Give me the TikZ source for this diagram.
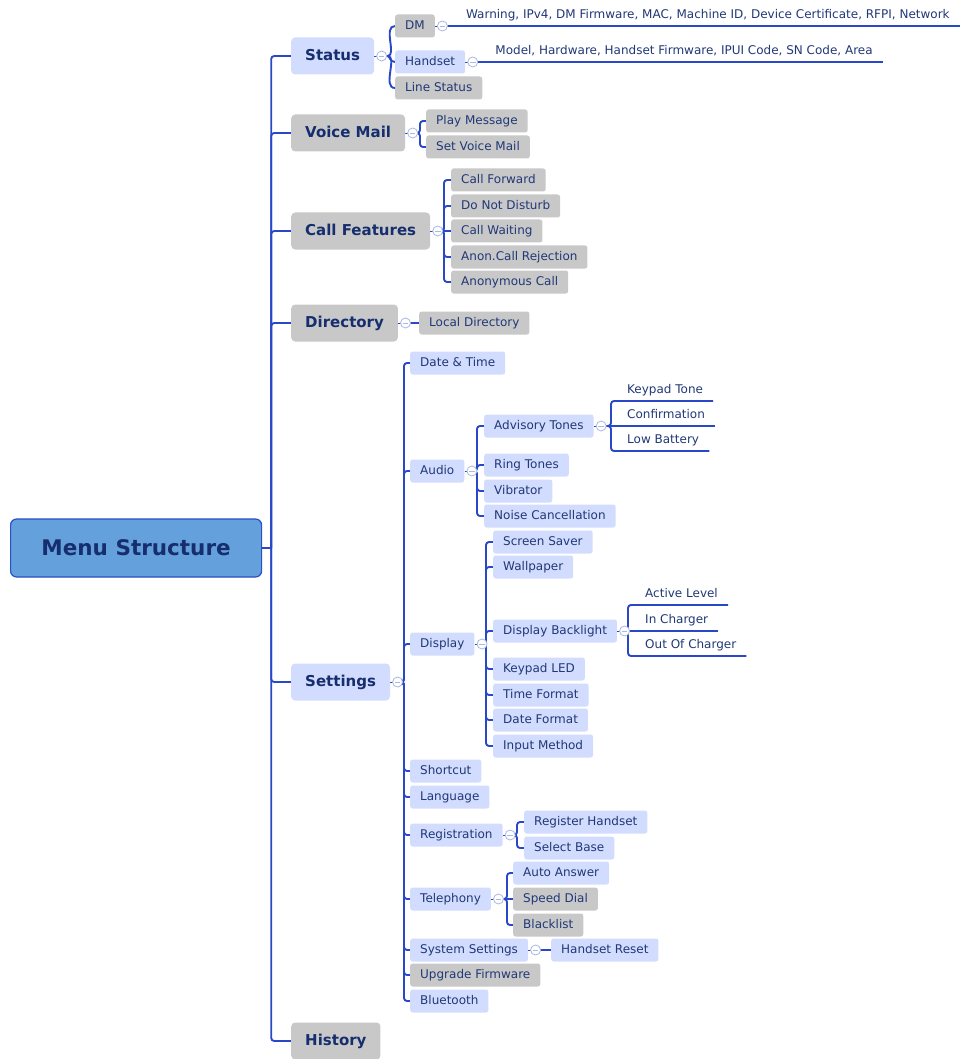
\documentclass[tikz,border=0pt]{standalone}
\usepackage{fontspec}
\setmainfont{DejaVu Sans}
\usetikzlibrary{positioning, calc, backgrounds}

\definecolor{linkc}{RGB}{40,72,200}
\definecolor{topicc}{RGB}{210,220,254}
\definecolor{greyc}{RGB}{200,200,200}
\definecolor{textc}{RGB}{32,56,118}
\definecolor{headc}{RGB}{22,46,110}
\definecolor{rootc}{RGB}{100,160,220}
\definecolor{rootline}{RGB}{40,80,200}
\definecolor{foldc}{RGB}{170,184,226}

\tikzset{
  conn/.style={draw=linkc, line width=1.9pt, rounded corners=3pt},
  tie/.style={draw=linkc, line width=0.8pt},
  box/.style={rounded corners=2.5pt, anchor=west, text=textc, font=\fontsize{12}{14}\selectfont,
    inner xsep=10pt, inner ysep=0pt, minimum height=23pt, text height=8.5pt, text depth=2pt},
  bluebox/.style={box, fill=topicc},
  greybox/.style={box, fill=greyc},
  main/.style={rounded corners=4pt, anchor=west, text=headc, font=\fontsize{15}{18}\selectfont\bfseries,
    inner xsep=14pt, inner ysep=0pt, minimum height=37pt, text height=11pt, text depth=2.5pt},
  mainblue/.style={main, fill=topicc},
  maingrey/.style={main, fill=greyc},
  leaf/.style={anchor=south west, text=textc, font=\fontsize{12}{14}\selectfont,
    inner xsep=10pt, inner ysep=3.5pt, text height=9pt, text depth=3.5pt},
  fold/.style={circle, draw=foldc, fill=white, line width=0.8pt, minimum size=10pt, inner sep=0pt,
    path picture={\draw[foldc, line width=0.8pt] ([xshift=-2.8pt]path picture bounding box.center) -- ([xshift=2.8pt]path picture bounding box.center);}},
}

\begin{document}
\begin{tikzpicture}[x=1pt, y=-1pt]
    \useasboundingbox (0,0) rectangle (964,1059);

    % root
    \node[draw=rootline, fill=rootc, line width=1.2pt, rounded corners=6pt, anchor=west, minimum width=251pt, minimum height=58pt,
      text=headc, font=\fontsize{21.5}{25}\selectfont\bfseries] (root) at (10,548) {Menu Structure};
    \coordinate (trunk) at ([xshift=9pt]root.east);

    % first level
    \node[mainblue] (st) at (291,56) {Status};
    \node[maingrey] (vm) at (291,133) {Voice Mail};
    \node[maingrey] (cfe) at (291,231) {Call Features};
    \node[maingrey] (dir) at (291,323) {Directory};
    \node[mainblue] (set) at (291,682) {Settings};
    \node[maingrey] (his) at (291,1041) {History};

    % status
    \node[greybox] (dm) at (395,26) {DM};
    \node[bluebox] (hs) at (395,62) {Handset};
    \node[greybox] (ls) at (395,88) {Line Status};

    % voice mail
    \node[greybox] (pm) at (426,121) {Play Message};
    \node[greybox] (svm) at (426,147) {Set Voice Mail};

    % call features
    \node[greybox] (cfw) at (451,180) {Call Forward};
    \node[greybox] (dnd) at (451,206) {Do Not Disturb};
    \node[greybox] (cwt) at (451,231) {Call Waiting};
    \node[greybox] (acr) at (451,257) {Anon.Call Rejection};
    \node[greybox] (anc) at (451,282) {Anonymous Call};

    % directory
    \node[greybox] (ld) at (419,323) {Local Directory};

    % settings
    \node[bluebox] (dt) at (410,363) {Date \& Time};
    \node[bluebox] (au) at (410,471) {Audio};
    \node[bluebox] (dsp) at (410,644) {Display};
    \node[bluebox] (sc) at (410,771) {Shortcut};
    \node[bluebox] (lang) at (410,797) {Language};
    \node[bluebox] (reg) at (410,835) {Registration};
    \node[bluebox] (tel) at (410,899) {Telephony};
    \node[bluebox] (sys) at (410,950) {System Settings};
    \node[greybox] (upg) at (410,975) {Upgrade Firmware};
    \node[bluebox] (bt) at (410,1001) {Bluetooth};

    % audio
    \node[bluebox] (adv) at (484,426) {Advisory Tones};
    \node[bluebox] (rt) at (484,465) {Ring Tones};
    \node[bluebox] (vib) at (484,491) {Vibrator};
    \node[bluebox] (nc) at (484,516) {Noise Cancellation};
    \node[leaf] (kt) at (617,401) {Keypad Tone};
    \node[leaf] (cnf) at (617,426) {Confirmation};
    \node[leaf] (lb) at (617,451) {Low Battery};

    % display
    \node[bluebox] (ss) at (493,542) {Screen Saver};
    \node[bluebox] (wp) at (493,567) {Wallpaper};
    \node[bluebox] (db) at (493,631) {Display Backlight};
    \node[bluebox] (kl) at (493,669) {Keypad LED};
    \node[bluebox] (tf) at (493,695) {Time Format};
    \node[bluebox] (df) at (493,720) {Date Format};
    \node[bluebox] (im) at (493,746) {Input Method};
    \node[leaf] (al) at (635,605) {Active Level};
    \node[leaf] (ic) at (635,631) {In Charger};
    \node[leaf] (oc) at (635,656) {Out Of Charger};

    % registration, telephony, system
    \node[bluebox] (rh) at (524,822) {Register Handset};
    \node[bluebox] (sb) at (524,848) {Select Base};
    \node[bluebox] (aa) at (513,873) {Auto Answer};
    \node[greybox] (sd) at (513,899) {Speed Dial};
    \node[greybox] (bl) at (513,925) {Blacklist};
    \node[bluebox] (hr) at (551,950) {Handset Reset};

    % fold marks
    \node[fold, right=2pt of st] (stf) {};
    \node[fold, right=2pt of dm] (dmf) {};
    \node[fold, right=2pt of hs] (hsf) {};
    \node[fold, right=2pt of vm] (vmf) {};
    \node[fold, right=2pt of cfe] (cfef) {};
    \node[fold, right=2pt of dir] (dirf) {};
    \node[fold, right=2pt of set] (setf) {};
    \node[fold, right=2pt of au] (auf) {};
    \node[fold, right=2pt of adv] (advf) {};
    \node[fold, right=2pt of dsp] (dspf) {};
    \node[fold, right=2pt of db] (dbf) {};
    \node[fold, right=2pt of reg] (regf) {};
    \node[fold, right=2pt of tel] (telf) {};
    \node[fold, right=2pt of sys] (sysf) {};

    % status texts
    \node[leaf] (dmi) at ([xshift=13.5pt]dmf.center) {Warning, IPv4, DM Firmware, MAC, Machine ID, Device Certificate, RFPI, Network};
    \node[leaf] (hsi) at ([xshift=12.5pt]hsf.center) {Model, Hardware, Handset Firmware, IPUI Code, SN Code, Area};

    \begin{scope}[on background layer]
      % trunk
      \draw[conn] (root.east) -- (trunk);
      \draw[conn] (trunk) |- (st.west);
      \draw[conn] (trunk) |- (vm.west);
      \draw[conn] (trunk) |- (cfe.west);
      \draw[conn] (trunk) |- (dir.west);
      \draw[conn] (trunk) |- (set.west);
      \draw[conn] (trunk) |- (his.west);

      % ties to fold marks
      \draw[tie] (st.east) -- (stf.center);
      \draw[tie] (dm.east) -- (dmf.center);
      \draw[tie] (hs.east) -- (hsf.center);
      \draw[tie] (vm.east) -- (vmf.center);
      \draw[tie] (cfe.east) -- (cfef.center);
      \draw[tie] (dir.east) -- (dirf.center);
      \draw[tie] (set.east) -- (setf.center);
      \draw[tie] (au.east) -- (auf.center);
      \draw[tie] (adv.east) -- (advf.center);
      \draw[tie] (dsp.east) -- (dspf.center);
      \draw[tie] (db.east) -- (dbf.center);
      \draw[tie] (reg.east) -- (regf.center);
      \draw[tie] (tel.east) -- (telf.center);
      \draw[tie] (sys.east) -- (sysf.center);

      % status
      \draw[conn] (stf.center) -- ++(3,0) to[out=0, in=180] (dm.west);
      \draw[conn] (stf.center) -- ++(3,0) to[out=0, in=180] (hs.west);
      \draw[conn] (stf.center) -- ++(3,0) to[out=0, in=180] (ls.west);
      \draw[conn] (dmf.center) -- (dmi.south east);
      \draw[conn] (hsf.center) -- (hsi.south east);

      % voice mail
      \draw[conn] (vmf.center) -| ([xshift=-6pt]pm.west) -- (pm.west);
      \draw[conn] (vmf.center) -| ([xshift=-6pt]svm.west) -- (svm.west);

      % call features
      \draw[conn] (cfef.center) -| ([xshift=-7pt]cfw.west) -- (cfw.west);
      \draw[conn] (cfef.center) -| ([xshift=-7pt]dnd.west) -- (dnd.west);
      \draw[conn] (cfef.center) -- (cwt.west);
      \draw[conn] (cfef.center) -| ([xshift=-7pt]acr.west) -- (acr.west);
      \draw[conn] (cfef.center) -| ([xshift=-7pt]anc.west) -- (anc.west);

      % directory
      \draw[conn] (dirf.center) -- (ld.west);

      % settings
      \draw[conn] (setf.center) -| ([xshift=-6pt]dt.west) -- (dt.west);
      \draw[conn] (setf.center) -| ([xshift=-6pt]au.west) -- (au.west);
      \draw[conn] (setf.center) -| ([xshift=-6pt]dsp.west) -- (dsp.west);
      \draw[conn] (setf.center) -| ([xshift=-6pt]sc.west) -- (sc.west);
      \draw[conn] (setf.center) -| ([xshift=-6pt]lang.west) -- (lang.west);
      \draw[conn] (setf.center) -| ([xshift=-6pt]reg.west) -- (reg.west);
      \draw[conn] (setf.center) -| ([xshift=-6pt]tel.west) -- (tel.west);
      \draw[conn] (setf.center) -| ([xshift=-6pt]sys.west) -- (sys.west);
      \draw[conn] (setf.center) -| ([xshift=-6pt]upg.west) -- (upg.west);
      \draw[conn] (setf.center) -| ([xshift=-6pt]bt.west) -- (bt.west);

      % audio
      \draw[conn] (auf.center) -| ([xshift=-7pt]adv.west) -- (adv.west);
      \draw[conn] (auf.center) -| ([xshift=-7pt]rt.west) -- (rt.west);
      \draw[conn] (auf.center) -| ([xshift=-7pt]vib.west) -- (vib.west);
      \draw[conn] (auf.center) -| ([xshift=-7pt]nc.west) -- (nc.west);
      \draw[conn] (advf.center) -| ([xshift=-6pt]kt.south west) -- (kt.south east);
      \draw[conn] (advf.center) -- (cnf.south east);
      \draw[conn] (advf.center) -| ([xshift=-6pt]lb.south west) -- (lb.south east);

      % display
      \draw[conn] (dspf.center) -| ([xshift=-7pt]ss.west) -- (ss.west);
      \draw[conn] (dspf.center) -| ([xshift=-7pt]wp.west) -- (wp.west);
      \draw[conn] (dspf.center) -| ([xshift=-7pt]db.west) -- (db.west);
      \draw[conn] (dspf.center) -| ([xshift=-7pt]kl.west) -- (kl.west);
      \draw[conn] (dspf.center) -| ([xshift=-7pt]tf.west) -- (tf.west);
      \draw[conn] (dspf.center) -| ([xshift=-7pt]df.west) -- (df.west);
      \draw[conn] (dspf.center) -| ([xshift=-7pt]im.west) -- (im.west);
      \draw[conn] (dbf.center) -| ([xshift=-7pt]al.south west) -- (al.south east);
      \draw[conn] (dbf.center) -- (ic.south east);
      \draw[conn] (dbf.center) -| ([xshift=-7pt]oc.south west) -- (oc.south east);

      % registration, telephony, system
      \draw[conn] (regf.center) -| ([xshift=-7pt]rh.west) -- (rh.west);
      \draw[conn] (regf.center) -| ([xshift=-7pt]sb.west) -- (sb.west);
      \draw[conn] (telf.center) -| ([xshift=-6pt]aa.west) -- (aa.west);
      \draw[conn] (telf.center) -- (sd.west);
      \draw[conn] (telf.center) -| ([xshift=-6pt]bl.west) -- (bl.west);
      \draw[conn] (sysf.center) -- (hr.west);
    \end{scope}
\end{tikzpicture}
\end{document}
